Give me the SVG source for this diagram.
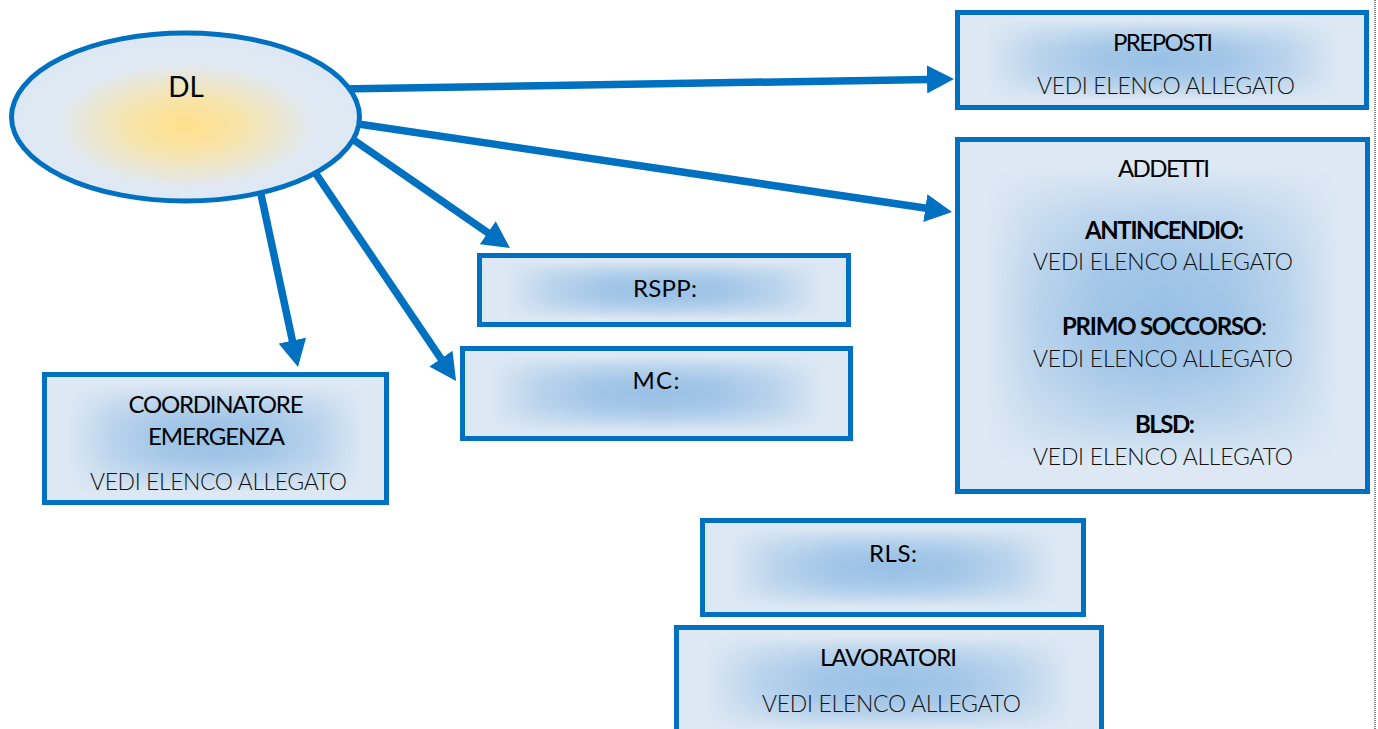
<svg xmlns="http://www.w3.org/2000/svg" width="1378" height="729" viewBox="0 0 1378 729">
<defs>
<radialGradient id="gEll" cx="0.5" cy="0.55" r="0.5">
 <stop offset="0" stop-color="#FFE08C"/>
 <stop offset="0.3" stop-color="#F8E4A8"/>
 <stop offset="0.75" stop-color="#DFE8F3"/>
 <stop offset="1" stop-color="#DEE8F4"/>
</radialGradient>
<linearGradient id="lh" x1="0" y1="0" x2="1" y2="0">
 <stop offset="0" stop-color="#000"/>
 <stop offset="0.07" stop-color="#000"/>
 <stop offset="0.2" stop-color="#8a8a8a"/>
 <stop offset="0.35" stop-color="#e4e4e4"/>
 <stop offset="0.5" stop-color="#fff"/>
 <stop offset="0.65" stop-color="#e4e4e4"/>
 <stop offset="0.8" stop-color="#8a8a8a"/>
 <stop offset="0.93" stop-color="#000"/>
 <stop offset="1" stop-color="#000"/>
</linearGradient>
<linearGradient id="lv" x1="0" y1="0" x2="0" y2="1">
 <stop offset="0" stop-color="#000"/>
 <stop offset="0.08" stop-color="#000"/>
 <stop offset="0.22" stop-color="#8a8a8a"/>
 <stop offset="0.36" stop-color="#e4e4e4"/>
 <stop offset="0.5" stop-color="#fff"/>
 <stop offset="0.64" stop-color="#e4e4e4"/>
 <stop offset="0.78" stop-color="#8a8a8a"/>
 <stop offset="0.92" stop-color="#000"/>
 <stop offset="1" stop-color="#000"/>
</linearGradient>
<mask id="mv" maskContentUnits="objectBoundingBox"><rect width="1" height="1" fill="url(#lv)"/></mask>
<mask id="mBox" maskContentUnits="objectBoundingBox"><rect width="1" height="1" fill="url(#lh)" mask="url(#mv)"/></mask>
<marker id="ah" markerUnits="userSpaceOnUse" markerWidth="28" markerHeight="28" refX="3" refY="14" orient="auto">
 <path d="M0,0 L27,14 L0,28 Z" fill="#0070C0"/>
</marker>
</defs>
<style>
.box{fill:#DDE8F4;stroke:#0070C0;stroke-width:5}
.glow{fill:#98C0E5;stroke:none}
.c{stroke:#0070C0;stroke-width:7.5;fill:none;marker-end:url(#ah)}
text{font-family:Lato,"Noto Sans",sans-serif;text-anchor:middle;fill:#000}
.t{font-size:24px}
.v{font-size:23px;font-weight:300;fill:#111}
.b{font-weight:700}
</style>
<line x1="1375" y1="0" x2="1375" y2="729" stroke="#000" stroke-width="1" stroke-dasharray="1 1"/>
<g id="connectors">
 <line class="c" x1="340" y1="89" x2="930" y2="79.4"/>
 <line class="c" x1="345" y1="122" x2="928.3" y2="208.5"/>
 <line class="c" x1="345" y1="134" x2="490.2" y2="234.4"/>
 <line class="c" x1="310" y1="165" x2="442.6" y2="361.1"/>
 <line class="c" x1="259" y1="185" x2="293" y2="343.5"/>
</g>
<g id="DL">
 <ellipse cx="185.5" cy="117" rx="174" ry="84" fill="url(#gEll)" stroke="#0070C0" stroke-width="5"/>
 <text x="186" y="97" style="font-size:28px">DL</text>
</g>
<g id="preposti">
 <rect class="box" x="957.5" y="12.5" width="409" height="95"/>
 <rect class="glow" x="957.5" y="12.5" width="409" height="95" mask="url(#mBox)"/>
 <text class="t" x="1163" y="51" textLength="100">PREPOSTI</text>
 <text class="v" x="1166" y="94" textLength="258">VEDI ELENCO ALLEGATO</text>
</g>
<g id="addetti">
 <rect class="box" x="957.5" y="139.5" width="410" height="352"/>
 <rect class="glow" x="957.5" y="139.5" width="410" height="352" mask="url(#mBox)"/>
 <text class="t" x="1164" y="177" textLength="92">ADDETTI</text>
 <text class="t b" x="1164.5" y="239" textLength="159">ANTINCENDIO:</text>
 <text class="v" x="1163" y="270" textLength="260">VEDI ELENCO ALLEGATO</text>
 <text class="t" x="1164.5" y="335" textLength="205"><tspan class="b">PRIMO SOCCORSO</tspan>:</text>
 <text class="v" x="1163" y="367" textLength="260">VEDI ELENCO ALLEGATO</text>
 <text class="t b" x="1165" y="433" textLength="60">BLSD:</text>
 <text class="v" x="1163" y="465" textLength="260">VEDI ELENCO ALLEGATO</text>
</g>
<g id="coordinatore">
 <rect class="box" x="44.5" y="374.5" width="342" height="128"/>
 <rect class="glow" x="44.5" y="374.5" width="342" height="128" mask="url(#mBox)"/>
 <text class="t" x="216" y="413" textLength="175">COORDINATORE</text>
 <text class="t" x="216.5" y="445" textLength="137">EMERGENZA</text>
 <text class="v" x="218.5" y="490" textLength="257">VEDI ELENCO ALLEGATO</text>
</g>
<g id="rspp">
 <rect class="box" x="479.5" y="255.5" width="369" height="69"/>
 <rect class="glow" x="479.5" y="255.5" width="369" height="69" mask="url(#mBox)"/>
 <text class="t" x="665" y="297" textLength="64">RSPP:</text>
</g>
<g id="mc">
 <rect class="box" x="462.5" y="348.5" width="388" height="90"/>
 <rect class="glow" x="462.5" y="348.5" width="388" height="90" mask="url(#mBox)"/>
 <text class="t" x="656" y="389" textLength="47">MC:</text>
</g>
<g id="rls">
 <rect class="box" x="702.5" y="520.5" width="381" height="94"/>
 <rect class="glow" x="702.5" y="520.5" width="381" height="94" mask="url(#mBox)"/>
 <text class="t" x="893" y="562" textLength="48">RLS:</text>
</g>
<g id="lavoratori">
 <rect class="box" x="676.5" y="627.5" width="425" height="112"/>
 <rect class="glow" x="676.5" y="627.5" width="425" height="112" mask="url(#mBox)"/>
 <text class="t" x="888.5" y="666" textLength="137">LAVORATORI</text>
 <text class="v" x="891.5" y="712" textLength="259">VEDI ELENCO ALLEGATO</text>
</g>
</svg>
